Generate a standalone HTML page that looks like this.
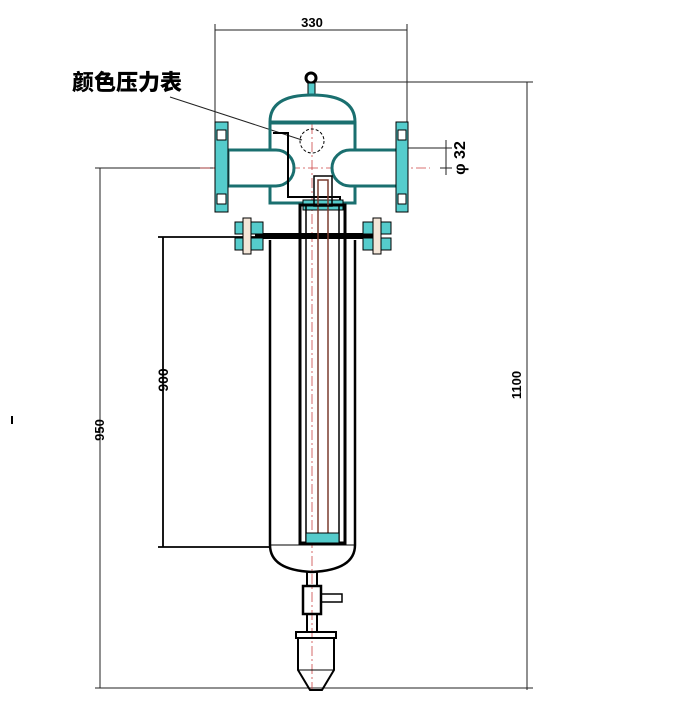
<!DOCTYPE html>
<html><head><meta charset="utf-8"><style>
html,body{margin:0;padding:0;background:#fff;width:673px;height:716px;overflow:hidden}
svg{display:block}
text{font-family:"Liberation Sans","Noto Sans CJK SC",sans-serif;font-weight:bold;fill:#000}
</style></head><body>
<svg width="673" height="716" viewBox="0 0 673 716" xmlns="http://www.w3.org/2000/svg">
<!-- dimension lines -->
<g stroke="#222" stroke-width="1" fill="none">
<line x1="215" y1="30" x2="407" y2="30"/>
<line x1="215" y1="24" x2="215" y2="122"/>
<line x1="407" y1="24" x2="407" y2="122"/>
<line x1="316" y1="82" x2="533" y2="82"/>
<line x1="527" y1="82" x2="527" y2="690"/>
<line x1="95" y1="688" x2="533" y2="688"/>
<line x1="100" y1="168" x2="100" y2="688"/>
<line x1="95" y1="168" x2="230" y2="168"/>
<line x1="407" y1="148" x2="452" y2="148"/>
<line x1="440" y1="168" x2="452" y2="168"/>
<line x1="446" y1="140" x2="446" y2="175"/>
<line x1="170" y1="97" x2="302" y2="140"/>
</g>
<g stroke="#000" stroke-width="1.8" fill="none">
<line x1="163" y1="237" x2="163" y2="547"/>
<line x1="158" y1="237" x2="270" y2="237"/>
<line x1="158" y1="547" x2="270" y2="547"/>
</g>
<!-- center lines -->
<g stroke="#c44" stroke-width="0.8" stroke-dasharray="10 3 2 3">
<line x1="200" y1="168" x2="430" y2="168"/>
<line x1="312" y1="88" x2="312" y2="690"/>
</g>
<!-- top ball -->
<circle cx="311" cy="78" r="5" fill="none" stroke="#000" stroke-width="3"/>
<rect x="308" y="83" width="7" height="12" fill="#5cc" stroke="#000"/>
<!-- dome -->
<path d="M270 122 Q270 95 312 95 Q355 95 355 122 Z" fill="#fff" stroke="#1a6f6f" stroke-width="3"/>
<line x1="270" y1="123" x2="355" y2="123" stroke="#000" stroke-width="2"/>
<!-- chamber -->
<rect x="270" y="123" width="85" height="80" fill="none" stroke="#1a6f6f" stroke-width="3"/>
<!-- left nozzle -->
<path d="M228 150 H276 A18 18 0 0 1 276 186 H228 Z" fill="#fff" stroke="#1a6f6f" stroke-width="3"/>
<rect x="215" y="122" width="13" height="90" fill="#5cc" stroke="#000"/>
<rect x="217" y="130" width="9" height="10" fill="#fff" stroke="#000"/>
<rect x="217" y="194" width="9" height="10" fill="#fff" stroke="#000"/>
<!-- right nozzle -->
<path d="M397 150 H350 A18 18 0 0 0 350 186 H397 Z" fill="#fff" stroke="#1a6f6f" stroke-width="3"/>
<rect x="396" y="122" width="12" height="90" fill="#5cc" stroke="#000"/>
<rect x="398" y="130" width="8" height="10" fill="#fff" stroke="#000"/>
<rect x="398" y="194" width="8" height="10" fill="#fff" stroke="#000"/>
<!-- inner gauge / baffle -->
<path d="M273 133 H288 V197 H340 V205" fill="none" stroke="#000" stroke-width="2"/>
<circle cx="312" cy="141" r="12" fill="none" stroke="#000" stroke-dasharray="3 2"/>
<rect x="303" y="200" width="40" height="10" fill="#5cc" stroke="#000"/>
<!-- bolted flange -->
<rect x="255" y="233" width="120" height="6" fill="#000"/>
<rect x="235" y="222" width="28" height="12" fill="#5cc" stroke="#000"/>
<rect x="235" y="238" width="28" height="12" fill="#5cc" stroke="#000"/>
<rect x="363" y="222" width="28" height="12" fill="#5cc" stroke="#000"/>
<rect x="363" y="238" width="28" height="12" fill="#5cc" stroke="#000"/>
<rect x="243" y="218" width="8" height="36" fill="#f4e6d8" stroke="#000"/>
<rect x="373" y="218" width="8" height="36" fill="#f4e6d8" stroke="#000"/>
<!-- body -->
<path d="M270 240 V545 Q270 570 312 572 Q355 570 355 545 V240" fill="none" stroke="#000" stroke-width="2.5"/>
<line x1="270" y1="545" x2="355" y2="545" stroke="#000"/>
<!-- filter element -->
<rect x="300" y="205" width="45" height="338" fill="none" stroke="#000" stroke-width="3"/>
<rect x="306" y="205" width="33" height="338" fill="none" stroke="#000" stroke-width="1.5"/>
<rect x="318" y="180" width="10" height="360" fill="none" stroke="#7a3b2e" stroke-width="1.5"/>
<rect x="314" y="176" width="18" height="30" fill="none" stroke="#000" stroke-width="1.5"/>
<rect x="306" y="533" width="33" height="10" fill="#5cc" stroke="#000"/>
<!-- drain valve -->
<rect x="307" y="572" width="10" height="14" fill="none" stroke="#000" stroke-width="2"/>
<rect x="303" y="586" width="18" height="28" fill="none" stroke="#000" stroke-width="2.5"/>
<rect x="321" y="594" width="21" height="8" fill="none" stroke="#000" stroke-width="1.5"/>
<rect x="307" y="614" width="10" height="18" fill="none" stroke="#000" stroke-width="2"/>
<rect x="296" y="632" width="40" height="6" fill="none" stroke="#000" stroke-width="2"/>
<path d="M298 638 V670 L310 690 H322 L334 670 V638" fill="none" stroke="#000" stroke-width="2"/>
<line x1="298" y1="670" x2="334" y2="670" stroke="#000"/>
<!-- text -->
<text x="312" y="27" font-size="13" text-anchor="middle">330</text>
<text x="72" y="90" font-size="22" style="font-family:'Noto Sans CJK SC',sans-serif;font-weight:900">颜色压力表</text>
<text transform="translate(465,158) rotate(-90)" font-size="16" text-anchor="middle">φ 32</text>
<text transform="translate(168,380) rotate(-90)" font-size="14" text-anchor="middle">900</text>
<text transform="translate(104,430) rotate(-90)" font-size="13" text-anchor="middle">950</text>
<text transform="translate(521,385) rotate(-90)" font-size="13" text-anchor="middle">1100</text>
<rect x="11" y="416" width="2" height="8" fill="#000"/>
</svg>
</body></html>
